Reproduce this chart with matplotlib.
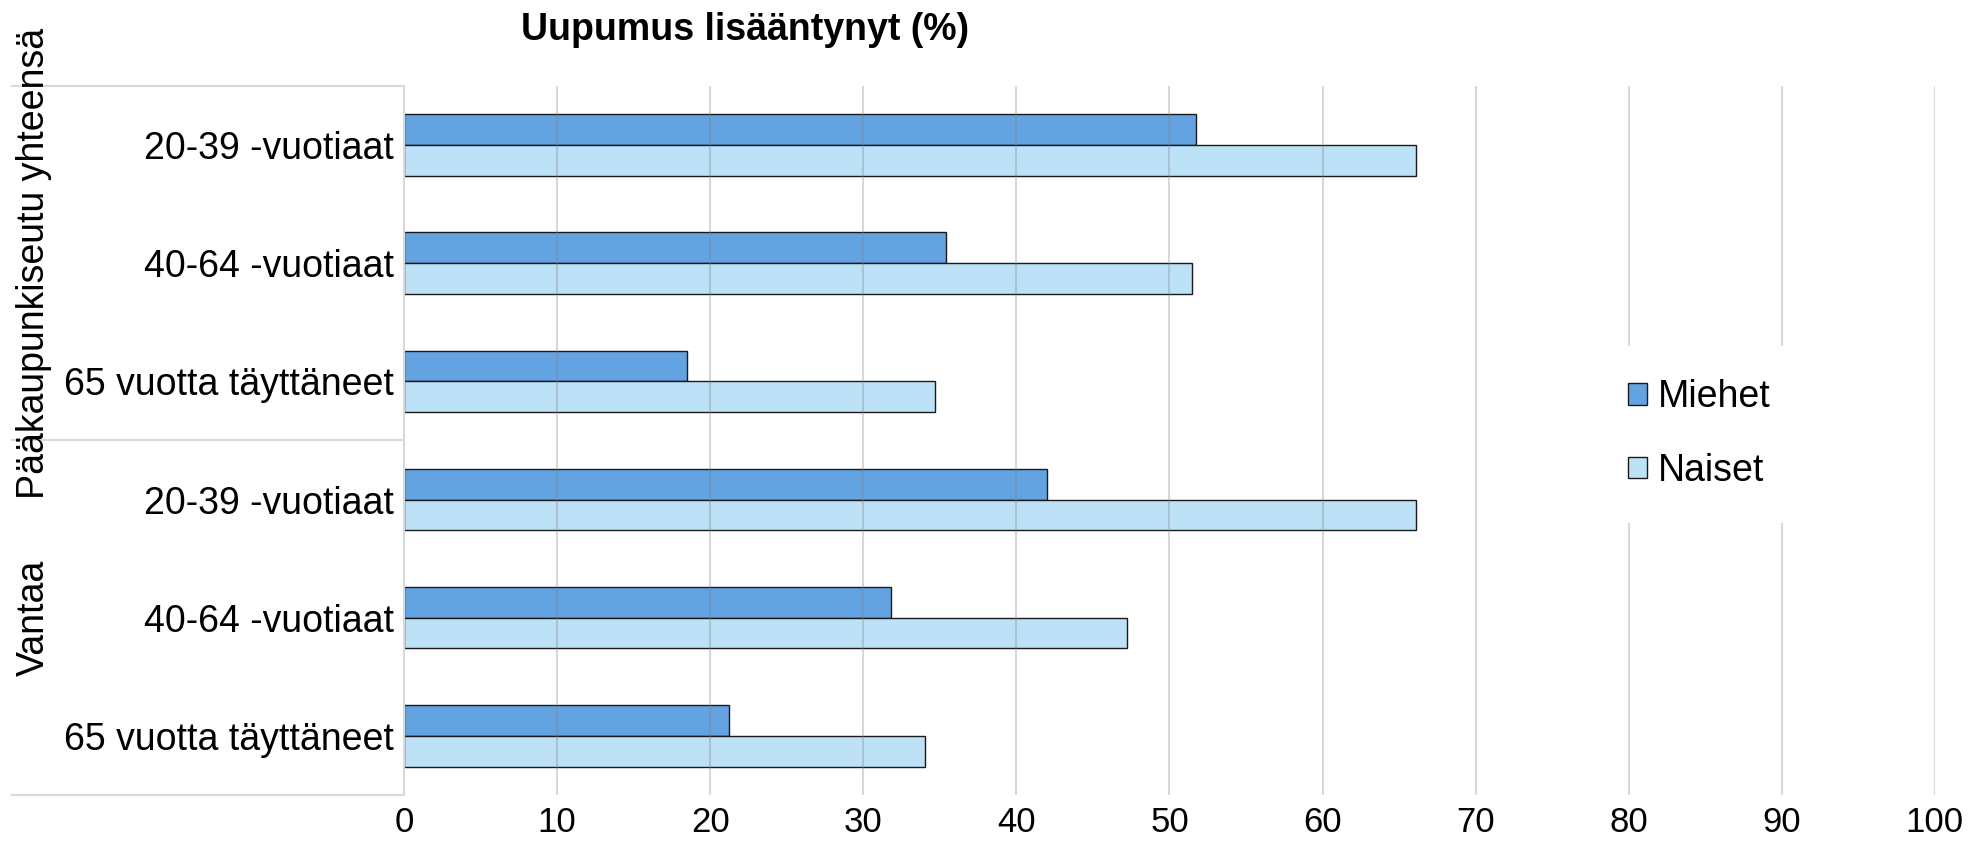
import matplotlib
matplotlib.use("Agg")
import matplotlib.pyplot as plt
import numpy as np

plt.rcParams['font.family'] = ['Liberation Sans', 'DejaVu Sans']

title = "Uupumus lisääntynyt (%)"
groups = ["Pääkaupunkiseutu yhteensä", "Vantaa"]
categories = ["20-39 -vuotiaat", "40-64 -vuotiaat", "65 vuotta täyttäneet",
              "20-39 -vuotiaat", "40-64 -vuotiaat", "65 vuotta täyttäneet"]
series_names = ["Miehet", "Naiset"]
miehet = [51.7, 35.4, 18.5, 42.0, 31.8, 21.2]
naiset = [66.1, 51.5, 34.7, 66.1, 47.2, 34.0]
xticks = [0, 10, 20, 30, 40, 50, 60, 70, 80, 90, 100]

c_m = "#63a3e2"
c_n = "#bde1f7"
grid_c = "#d9d9d9"

fig = plt.figure(figsize=(19.73, 8.42), dpi=100)
ax = fig.add_axes([0.2048, 0.0558, 0.7759, 0.8422])

y = np.arange(len(categories))
h = 0.26
ax.barh(y - h / 2, miehet, height=h, color=c_m, edgecolor="#1a1a1a", linewidth=1.0,
        label=series_names[0], zorder=2)
ax.barh(y + h / 2, naiset, height=h, color=c_n, edgecolor="#1a1a1a", linewidth=1.0,
        label=series_names[1], zorder=2)

ax.set_ylim(len(categories) - 0.5, -0.5)
ax.set_xlim(0, 100)
ax.set_xticks(xticks)
ax.set_xticklabels([str(t) for t in xticks], fontsize=25)
ax.set_yticks(y)
ax.set_yticklabels(categories, fontsize=27)
ax.tick_params(axis='both', length=0)
ax.tick_params(axis='x', pad=8)
ax.tick_params(axis='y', pad=7)

for s in ["top", "right", "bottom"]:
    ax.spines[s].set_visible(False)
ax.spines["left"].set_color(grid_c)
ax.spines["left"].set_linewidth(1.5)
ax.spines["left"].set_zorder(3)

ax.xaxis.grid(True, color="#808080", alpha=0.3, linewidth=1.5, zorder=3)
ax.set_axisbelow(False)
for gl in ax.get_xgridlines():
    gl.set_zorder(3)

# hierarchical separators on the category axis
tr = ax.get_yaxis_transform()
n = len(categories)
per = n // len(groups)
x0 = -0.256
for b in [-0.5, per - 0.5, n - 0.5]:
    ax.plot([x0, 0], [b, b], transform=tr, color=grid_c, linewidth=1.5, clip_on=False)
for gi, g in enumerate(groups):
    yc = gi * per + (per - 1) / 2
    ax.text(-0.2417, yc, g, transform=tr, rotation=90, ha="center", va="center",
            fontsize=27)

fig.text(0.3776, 1 - 30 / 842, title, fontsize=27, fontweight="bold",
         ha="center", va="center")

leg = ax.legend(loc="center", bbox_to_anchor=(0.846, 0.509), fontsize=27,
                frameon=True, facecolor="white", edgecolor="none", framealpha=1,
                handlelength=0.5, handleheight=0.5, handletextpad=0.3,
                labelspacing=1.0, borderpad=0.9)
leg.set_zorder(5)

fig.savefig("out.png", dpi=100)
